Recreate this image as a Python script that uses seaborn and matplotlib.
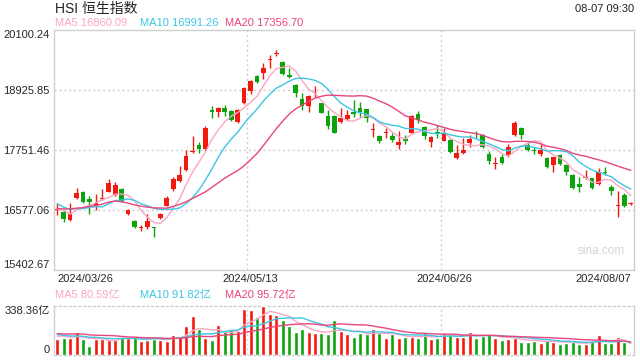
################################################
#                 Libraries
################################################
import numpy as np
import pandas as pd
import matplotlib
matplotlib.use("Agg")
import matplotlib.pyplot as plt
import seaborn as sns

################################################
#                 Data
################################################
date_labels = ["2024/03/26", "2024/05/13", "2024/06/26", "2024/08/07"]
date_pos = [0, 30, 60, 89]

# closes before 2024/03/26, only used to warm up the moving averages
pre_close = [16536, 16511, 16589, 16595, 16163, 16438, 16230, 16353, 16587, 17093,
             17082, 16962, 16721, 16737, 16529, 16543, 16863, 16499, 16473]
pre_volume = [150, 135, 128, 142, 175, 160, 138, 130, 145, 210,
              190, 165, 150, 140, 128, 120, 155, 138, 125]

open_ = [16580, 16544, 16381, 16818, 16923, 16792, 16656, 16790, 16936, 16871,
         16982, 16492, 16362, 16225, 16251, 16240, 16427, 16662, 16995, 17145,
         17360, 17710, 17849, 17764, 18528, 18502, 18567, 18515, 18306, 18678,
         18913, 19200, 19265, 19520, 19636, 19474, 19219, 19024, 18743, 18619,
         18800, 18665, 18417, 18417, 18293, 18352, 18502, 18567, 18548, 18150,
         18026, 18090, 18026, 17849, 17967, 18078, 18456, 18208, 17915, 18095,
         17934, 17947, 17588, 17686, 17882, 18070, 18045, 17673, 17485, 17608,
         17654, 18045, 18189, 17849, 17743, 17673, 17601, 17458, 17654, 17458,
         17262, 17086, 17210, 17197, 17080, 17312, 17034, 16655, 16871, 16690]
high = [16721, 16570, 16721, 17001, 16940, 16851, 16890, 16982, 17184, 17132,
        17001, 16590, 16390, 16283, 16499, 16245, 16510, 16851, 17229, 17445,
        17751, 18025, 17901, 18221, 18613, 18586, 18632, 18530, 18554, 18991,
        19121, 19215, 19461, 19611, 19709, 19490, 19350, 19040, 18861, 18820,
        19004, 18680, 18534, 18430, 18567, 18534, 18730, 18698, 18560, 18273,
        18040, 18176, 18091, 18123, 18045, 18437, 18515, 18220, 18020, 18234,
        18176, 17960, 17849, 17980, 18045, 18130, 18060, 17738, 17608, 17673,
        17862, 18319, 18200, 17915, 17804, 17868, 17615, 17620, 17670, 17470,
        17275, 17217, 17360, 17210, 17393, 17412, 17067, 16949, 16916, 16740]
low = [16479, 16350, 16360, 16800, 16720, 16492, 16577, 16773, 16920, 16850,
       16740, 16470, 16230, 16166, 16205, 16055, 16410, 16650, 16949, 17130,
       17350, 17699, 17699, 17750, 18371, 18404, 18417, 18325, 18286, 18660,
       18841, 19060, 19134, 19350, 19591, 19220, 19154, 18795, 18534, 18502,
       18782, 18470, 18163, 18080, 18286, 18340, 18391, 18404, 18306, 18000,
       17882, 17980, 17915, 17764, 17862, 18060, 18286, 17960, 17804, 17980,
       17920, 17700, 17569, 17673, 17817, 17980, 17800, 17478, 17386, 17471,
       17621, 18030, 17967, 17740, 17673, 17634, 17393, 17327, 17460, 17262,
       16988, 16936, 17177, 16982, 17067, 17262, 16871, 16447, 16629, 16675]
close = [16600, 16394, 16512, 16903, 16741, 16741, 16708, 16805, 17112, 17066,
         16753, 16577, 16251, 16235, 16362, 16230, 16499, 16805, 17177, 17262,
         17634, 17719, 17777, 18188, 18489, 18567, 18489, 18339, 18534, 18958,
         19102, 19076, 19363, 19532, 19643, 19239, 19187, 18873, 18613, 18808,
         18808, 18482, 18228, 18091, 18384, 18437, 18450, 18489, 18371, 18156,
         17934, 18097, 17947, 17915, 17934, 18417, 18339, 18026, 18013, 18085,
         18078, 17719, 17686, 17751, 17967, 18060, 17817, 17543, 17491, 17491,
         17817, 18286, 18045, 17751, 17735, 17751, 17412, 17608, 17471, 17327,
         17014, 17034, 17217, 17014, 17314, 17304, 16956, 16662, 16662, 16695]
# turnover, 亿
volume = [113, 120, 120, 159, 113, 64, 113, 113, 107, 107,
          125, 120, 132, 100, 107, 113, 104, 100, 139, 132,
          200, 268, 177, 120, 104, 207, 170, 179, 166, 316,
          309, 261, 336, 284, 275, 241, 200, 159, 179, 159,
          152, 152, 145, 241, 166, 145, 125, 152, 145, 179,
          152, 118, 145, 118, 127, 127, 118, 152, 111, 118,
          152, 143, 127, 127, 159, 118, 134, 145, 118, 104,
          111, 118, 91, 91, 98, 84, 107, 91, 77, 84,
          91, 77, 77, 98, 139, 84, 84, 125, 91, 3]

# values printed in the legends
ma_periods = [5, 10, 20]
ma_last = [16860.09, 16991.26, 17356.70]
vma_last = [80.59, 91.82, 95.72]

y_ticks = [15402.67, 16577.06, 17751.46, 18925.85, 20100.24]
vol_max = 338.36

################################################
#                 Colours / fonts
################################################
UP = "#f2190f"
DOWN = "#0ca30c"
MA_COLORS = {5: "#f9a6c4", 10: "#3ec6e3", 20: "#e8457b"}
GRID = "#cfcfcf"

sns.set_style("white")
plt.rcParams["font.family"] = ["Liberation Sans", "Noto Sans CJK SC"]

df = pd.DataFrame({"i": np.arange(len(close)), "open": open_, "high": high,
                   "low": low, "close": close, "volume": volume})
df["dir"] = np.where(df["close"] >= df["open"], "up", "down")

all_close = pd.Series(pre_close + close)
all_vol = pd.Series(pre_volume + volume)
n_pre = len(pre_close)
for n in ma_periods:
    df["ma%d" % n] = all_close.rolling(n).mean().iloc[n_pre:].values
    df["vma%d" % n] = all_vol.rolling(n).mean().iloc[n_pre:].values

################################################
#                 Figure
################################################
fig = plt.figure(figsize=(6.4, 3.6), dpi=100)
ax = fig.add_axes([54 / 640, 1 - 270 / 360, 580 / 640, 240 / 360])
axv = fig.add_axes([54 / 640, 1 - 355 / 360, 580 / 640, 49 / 360])

# candles
cols = np.where(df["dir"] == "up", UP, DOWN)
ax.vlines(df["i"], df["low"], df["high"], colors=cols, lw=1, zorder=3)
body_h = np.maximum((df["close"] - df["open"]).abs(), 18)
body_b = np.minimum(df["close"], df["open"])
ax.bar(df["i"], body_h, bottom=body_b, width=0.72, color=cols, lw=0, zorder=4)

for n in ma_periods:
    sns.lineplot(data=df, x="i", y="ma%d" % n, ax=ax, color=MA_COLORS[n], lw=1, zorder=5)

ax.set_xlim(-0.5, len(close) - 0.5)
ax.set_ylim(y_ticks[0], y_ticks[-1])
ax.set_yticks(y_ticks)
ax.set_yticklabels(["%.2f" % v for v in y_ticks], fontsize=8)
ax.get_yticklabels()[0].set_va("bottom")
ax.get_yticklabels()[-1].set_va("top")
ax.set_xticks(date_pos)
ax.set_xticklabels(date_labels, fontsize=8)
xl = ax.get_xticklabels()
xl[0].set_ha("left")
xl[-1].set_ha("right")
ax.tick_params(length=0, pad=3)
ax.set_xlabel("")
ax.set_ylabel("")
for y in y_ticks[1:-1]:
    ax.axhline(y, color=GRID, lw=1, ls=(0, (1.5, 2)), zorder=1)
for x in date_pos[1:3]:
    ax.axvline(x - 0.5, color=GRID, lw=1, ls=(0, (1.5, 2)), zorder=1)
for s in ax.spines.values():
    s.set_color(GRID)
    s.set_linewidth(1)
ax.text(0.985, 0.08, "sina.com", transform=ax.transAxes, ha="right", va="center",
        fontsize=8.5, color="#d4d4d4")

# volume
sns.barplot(data=df, x="i", y="volume", hue="dir", palette={"up": UP, "down": DOWN},
            dodge=False, width=0.62, ax=axv, legend=False, saturation=1, zorder=3)
for n in ma_periods:
    axv.plot(df["i"], df["vma%d" % n], color=MA_COLORS[n], lw=1, zorder=5)
axv.set_xlim(-0.5, len(close) - 0.5)
axv.set_ylim(0, vol_max)
axv.set_yticks([0, vol_max])
axv.set_yticklabels(["0", "%.2f亿" % vol_max], fontsize=8)
axv.get_yticklabels()[0].set_va("bottom")
axv.get_yticklabels()[1].set_va("top")
axv.set_xticks([])
axv.tick_params(length=0, pad=3)
axv.set_xlabel("")
axv.set_ylabel("")
for x in date_pos[1:3]:
    axv.axvline(x - 0.5, color=GRID, lw=1, ls=(0, (1.5, 2)), zorder=1)
for k, s in axv.spines.items():
    s.set_color(GRID)
    s.set_linewidth(1)
    if k in ("top", "bottom"):
        s.set_linestyle((0, (1.5, 2)))

################################################
#                 Header texts
################################################
fig.text(55 / 640, 1 - 9 / 360, "HSI 恒生指数", fontsize=10, color="#222222", va="center")
fig.text(634 / 640, 1 - 9 / 360, "08-07 09:30", fontsize=8, color="#222222",
         va="center", ha="right")
for x0, n, v, vv in zip((55, 140, 225), ma_periods, ma_last, vma_last):
    fig.text(x0 / 640, 1 - 23 / 360, "MA%d %.2f" % (n, v),
             fontsize=8, color=MA_COLORS[n], va="center")
    fig.text(x0 / 640, 1 - 295 / 360, "MA%d %.2f亿" % (n, vv),
             fontsize=8, color=MA_COLORS[n], va="center")

fig.savefig("out.png", dpi=100)
plt.close(fig)
